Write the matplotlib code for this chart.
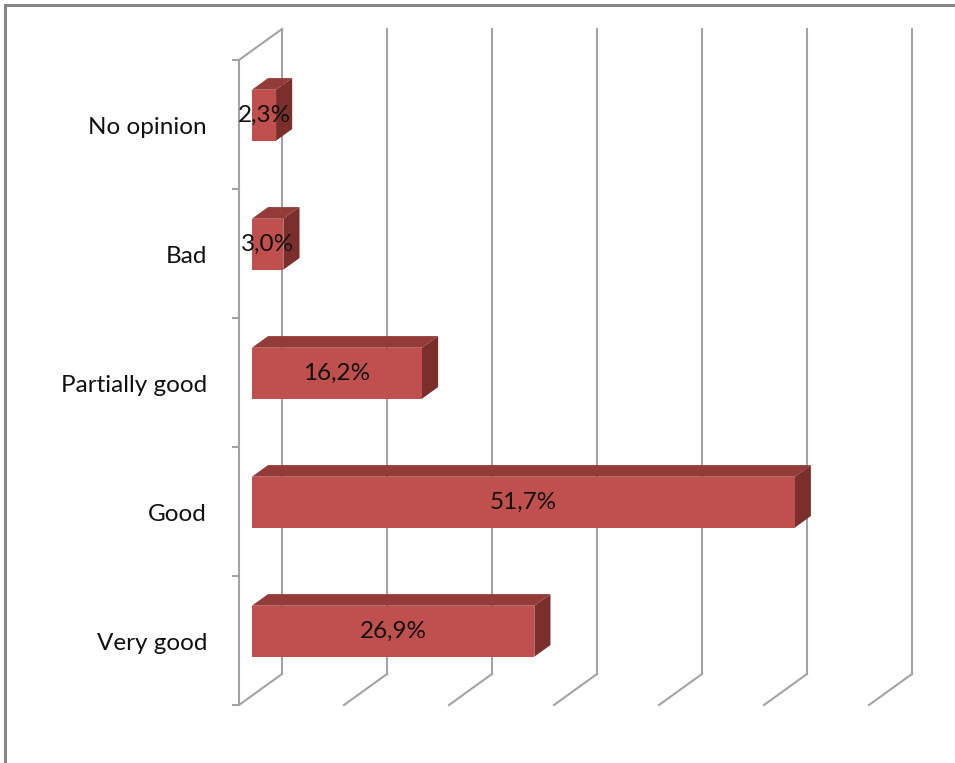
import matplotlib
matplotlib.use("Agg")
import matplotlib.pyplot as plt
from matplotlib.patches import Polygon
from matplotlib.lines import Line2D

categories = ["Very good", "Good", "Partially good", "Bad", "No opinion"]
values = [26.9, 51.7, 16.2, 3.0, 2.3]
value_labels = ["26,9%", "51,7%", "16,2%", "3,0%", "2,3%"]
x_ticks = [0, 10, 20, 30, 40, 50, 60]

W, H = 955, 763
fig = plt.figure(figsize=(W / 100, H / 100), dpi=100)
fig.patch.set_facecolor("white")

# plot-area axes: front plane, x in %, y in category units
x0_px, x1_px = 239, 869
y_bot_px, y_top_px = 705, 60
ax = fig.add_axes([x0_px / W, (H - y_bot_px) / H, (x1_px - x0_px) / W, (y_bot_px - y_top_px) / H])
ax.set_xlim(0, 60)
ax.set_ylim(0, 5)
ax.axis("off")

# depth offsets (in data units) for depth = 1 (back wall)
px_per_x = (x1_px - x0_px) / 60.0
px_per_y = (y_bot_px - y_top_px) / 5.0
DX = 43 / px_per_x
DY = 31 / px_per_y

def P(v, c, d):
    return (v + DX * d, c + DY * d)

grid_col = "#A3A3A3"
lw = 1.5
ncat = len(categories)
FONT = ["Lato", "DejaVu Sans"]
FS = 17.5

# back wall vertical gridlines and floor diagonals
for t in x_ticks:
    a = P(t, 0, 1); b = P(t, ncat, 1)
    ax.add_line(Line2D([a[0], b[0]], [a[1], b[1]], color=grid_col, lw=lw, clip_on=False, zorder=1))
    a = P(t, 0, 0); b = P(t, 0, 1)
    ax.add_line(Line2D([a[0], b[0]], [a[1], b[1]], color=grid_col, lw=lw, clip_on=False, zorder=1))

# left side wall: front vertical and top diagonal
a = P(0, 0, 0); b = P(0, ncat, 0)
ax.add_line(Line2D([a[0], b[0]], [a[1], b[1]], color=grid_col, lw=lw, clip_on=False, zorder=1))
a = P(0, ncat, 0); b = P(0, ncat, 1)
ax.add_line(Line2D([a[0], b[0]], [a[1], b[1]], color=grid_col, lw=lw, clip_on=False, zorder=1))

# tick marks on category axis
tick_len = 6 / px_per_x
for i in range(ncat + 1):
    ax.add_line(Line2D([-tick_len, 0], [i, i], color=grid_col, lw=lw, clip_on=False, zorder=1))

# bars
d0, d1 = 0.30, 0.675
bar_h = 0.395
front_col = "#C0504D"
top_col = "#933B39"
side_col = "#7B2F2D"
for i, (v, lab) in enumerate(zip(values, value_labels)):
    yb = i + 0.5 - bar_h / 2
    yt = i + 0.5 + bar_h / 2
    f_bl = P(0, yb, d0); f_br = P(v, yb, d0); f_tr = P(v, yt, d0); f_tl = P(0, yt, d0)
    b_bl = P(0, yb, d1); b_br = P(v, yb, d1); b_tr = P(v, yt, d1); b_tl = P(0, yt, d1)
    ax.add_patch(Polygon([f_tl, f_tr, b_tr, b_tl], closed=True, facecolor=top_col, edgecolor="none", clip_on=False, zorder=3))
    ax.add_patch(Polygon([f_br, b_br, b_tr, f_tr], closed=True, facecolor=side_col, edgecolor="none", clip_on=False, zorder=3))
    ax.add_patch(Polygon([f_bl, f_br, f_tr, f_tl], closed=True, facecolor=front_col, edgecolor="none", clip_on=False, zorder=4))
    cx = (f_bl[0] + f_br[0]) / 2
    cy = (f_bl[1] + f_tl[1]) / 2
    ax.text(cx, cy, lab, ha="center", va="center", fontsize=FS, family=FONT,
            color="#111111", zorder=5, clip_on=False)
    # category label
    ax.text(-32 / px_per_x, i + 0.5 - 0.02, categories[i], ha="right", va="center", fontsize=FS,
            family=FONT, color="#111111", clip_on=False)

# outer frame (cropped chart border)
border = "#878787"
fig.add_artist(Line2D([5 / W, 1.0], [1 - 5 / H, 1 - 5 / H], color=border, lw=2.2, transform=fig.transFigure))
fig.add_artist(Line2D([5 / W, 5 / W], [0, 1 - 5 / H], color=border, lw=2.2, transform=fig.transFigure))

fig.savefig("out.png", dpi=100, facecolor="white")
